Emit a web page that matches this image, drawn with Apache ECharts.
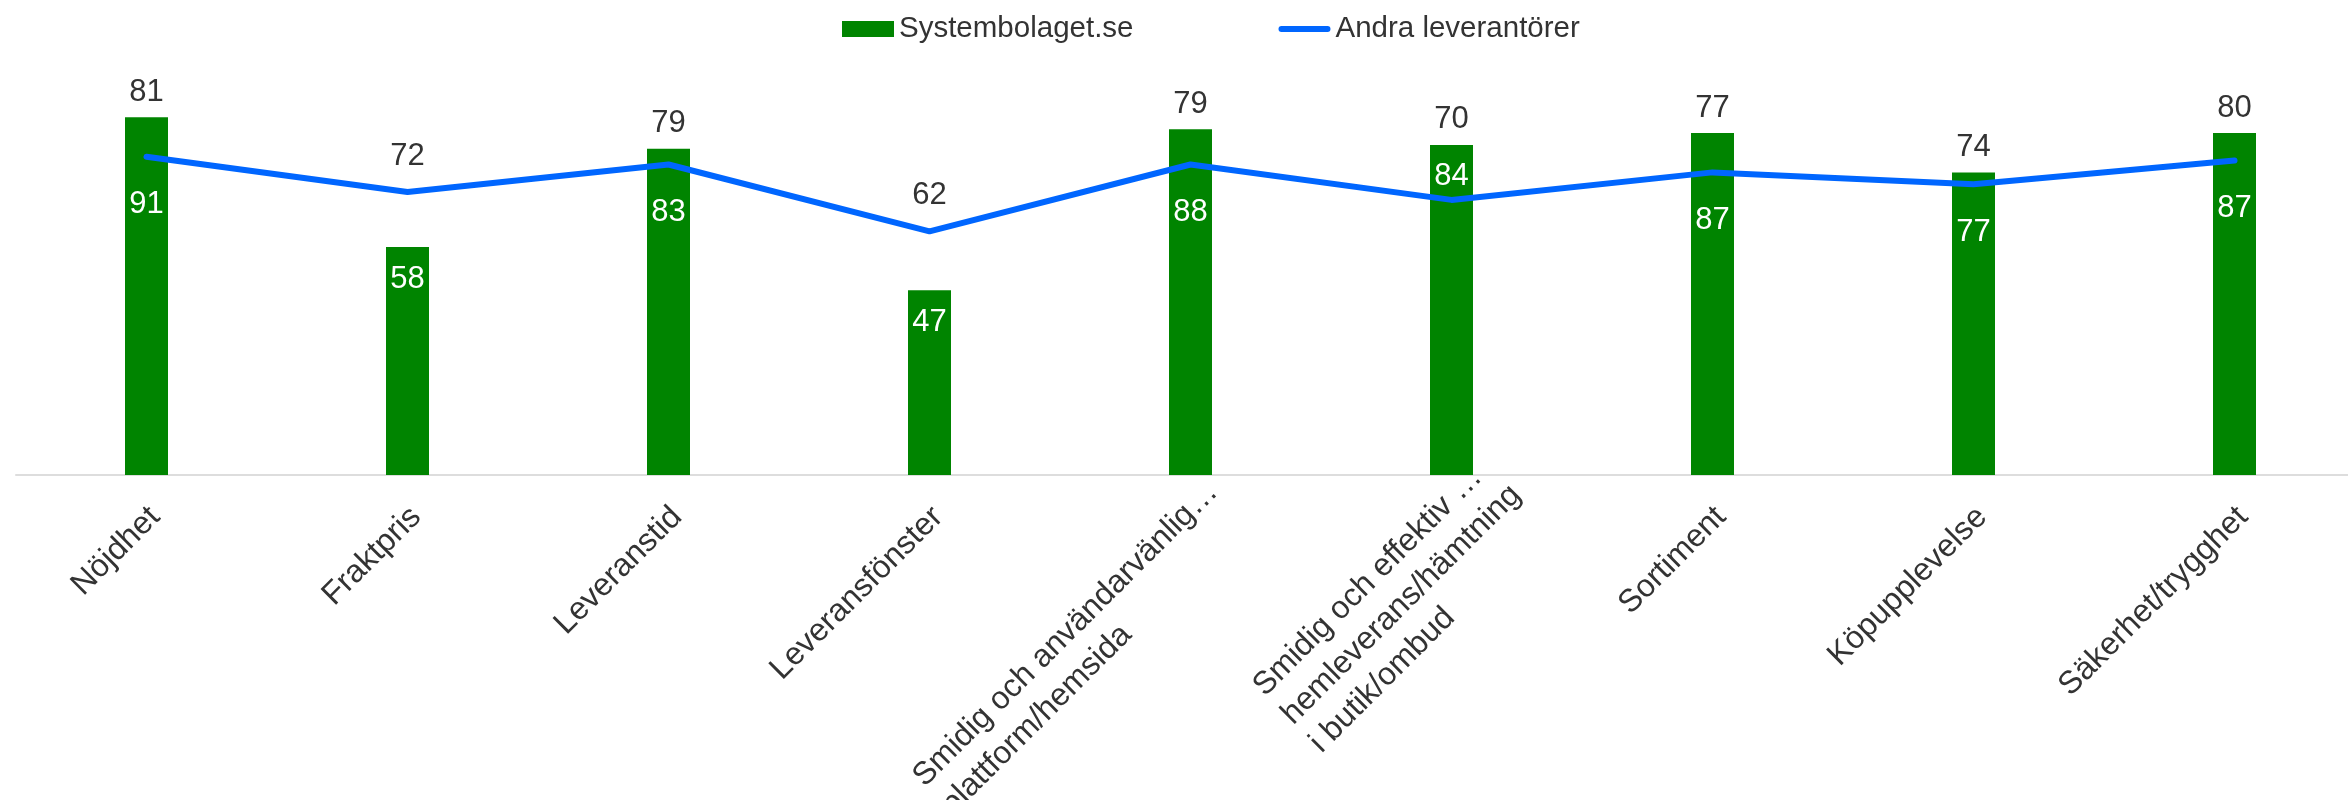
<!DOCTYPE html>
<html>
<head>
<meta charset="utf-8">
<title>Systembolaget.se vs andra leverantörer</title>
<script src="https://cdn.jsdelivr.net/npm/echarts@6/dist/echarts.min.js"></script>
<style>
  html, body { margin: 0; padding: 0; background: #fff; }
  #chart { width: 2348px; height: 800px; }
</style>
</head>
<body>
<div id="chart"></div>
<script>
// kategorier (axeltexter, som de visas i bilden)
const categories = [
    'Nöjdhet',
    'Fraktpris',
    'Leveranstid',
    'Leveransfönster',
    'Smidig och användarvänlig…\nplattform/hemsida',
    'Smidig och effektiv …\nhemleverans/hämtning\ni butik/ombud',
    'Sortiment',
    'Köpupplevelse',
    'Säkerhet/trygghet'
];

// staplar
const systembolaget = [91, 58, 83, 47, 88, 84, 87, 77, 87];
// linje
const andra = [81, 72, 79, 62, 79, 70, 77, 74, 80];

const seriesNames = ['Systembolaget.se', 'Andra leverantörer'];

// färger
const colors = {
    bar: '#008400',
    line: '#0066ff',
    text: '#333333',
    axis: '#dddddd'
};

const FONT = "'Liberation Sans', Arial, Helvetica, sans-serif";

// flerradiga etiketter flyttas längs/tvärs textriktningen (som i originalet)
const axisData = categories.map(function(c) {
    const n = c.split('\n').length;
    const along = 20 + 27.5 * (n - 1);   // åt höger längs texten
    const across = 12 * (n - 1) - 8;     // nedåt tvärs texten
    return { value: c, textStyle: { padding: [2 * across, -along, 0, 0] } };
});

const chart = echarts.init(document.getElementById('chart'));

const option = {
    animation: false,
    textStyle: { fontFamily: FONT },
    legend: {
        left: 837,
        top: 9,
        itemWidth: 52,
        itemHeight: 16,
        itemGap: 145,
        symbolKeepAspect: true,
        textStyle: { fontSize: 29.5, color: colors.text },
        data: [
            { name: seriesNames[0], icon: 'rect' },
            { name: seriesNames[1], icon: 'path://M3,0L49,0A3,3,0,0,1,49,6L3,6A3,3,0,0,1,3,0Z' }
        ]
    },
    grid: {
        left: 16,
        width: 2349,
        top: 82,
        bottom: 325,
        containLabel: false,
        outerBoundsMode: 'none'
    },
    xAxis: {
        type: 'category',
        data: axisData,
        axisLine: { show: true, lineStyle: { color: colors.axis, width: 2 } },
        axisTick: { show: false },
        axisLabel: {
            interval: 0,
            rotate: 45,
            margin: 57,
            hideOverlap: false,
            formatter: function(value) {
                // varje rad som egen token så att raderna vänsterjusteras i blocket
                return value.split('\n').map(function(s) { return '{l|' + s + '}'; }).join('\n');
            },
            rich: {
                l: { align: 'left', fontSize: 32, lineHeight: 40, color: colors.text, fontFamily: FONT }
            }
        }
    },
    yAxis: {
        type: 'value',
        min: 0,
        max: 100,
        show: false,
        splitLine: { show: false }
    },
    series: [
        {
            name: seriesNames[0],
            type: 'bar',
            barWidth: 43,
            itemStyle: { color: colors.bar },
            label: {
                show: true,
                position: 'inside',
                color: '#ffffff',
                fontSize: 31,
                fontFamily: FONT
            },
            data: systembolaget
        },
        {
            name: seriesNames[1],
            type: 'line',
            symbol: 'circle',
            symbolSize: 1,
            showSymbol: true,
            itemStyle: { color: colors.line },
            lineStyle: { color: colors.line, width: 6, cap: 'round', join: 'round' },
            label: {
                show: true,
                position: 'inside',
                color: colors.text,
                fontSize: 31,
                fontFamily: FONT
            },
            z: 3,
            data: andra
        }
    ]
};

chart.setOption(option);

// placera datatexterna så att de inte krockar med linjen / staplarna
function placeLabels() {
    const toY = function(v) { return chart.convertToPixel({ yAxisIndex: 0 }, v); };
    const baseY = toY(0);

    const barItems = systembolaget.map(function(b, i) {
        const barTop = toY(b);
        const lineY = toY(andra[i]);
        const centerY = (barTop + baseY) / 2;
        let target = barTop + 32;
        if (lineY > barTop - 10 && lineY < barTop + 50) {
            target = Math.max(target, lineY + 48);
        }
        return { value: b, label: { offset: [0, target - centerY] } };
    });

    const lineItems = andra.map(function(v, i) {
        const lineY = toY(v);
        const barTop = toY(systembolaget[i]);
        const target = Math.min(lineY - 36, barTop - 25);
        return { value: v, label: { offset: [0, target - lineY] } };
    });

    chart.setOption({
        series: [
            { name: seriesNames[0], data: barItems },
            { name: seriesNames[1], data: lineItems }
        ]
    });
}

placeLabels();

window.addEventListener('resize', function() {
    chart.resize();
    placeLabels();
});
</script>
</body>
</html>
